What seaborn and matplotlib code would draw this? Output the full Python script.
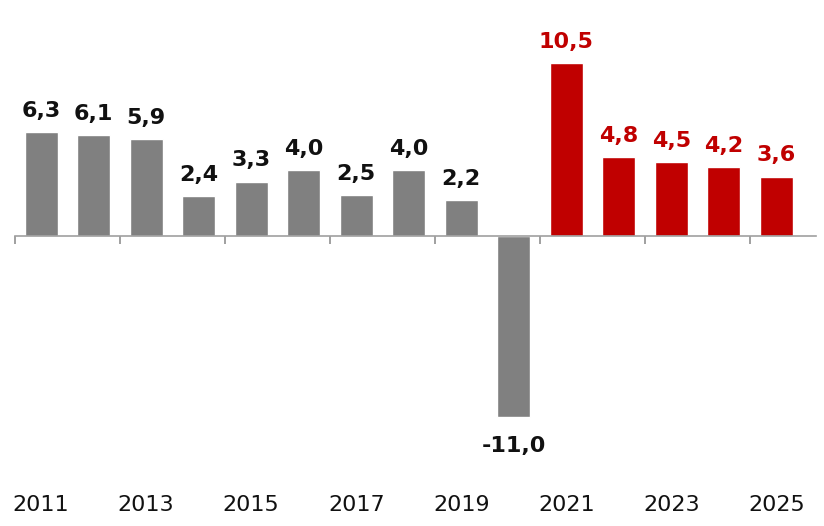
import matplotlib
matplotlib.use("Agg")
import matplotlib.pyplot as plt
import matplotlib.transforms as mtransforms
import seaborn as sns
import pandas as pd

years = ["2011", "2012", "2013", "2014", "2015", "2016", "2017", "2018",
         "2019", "2020", "2021", "2022", "2023", "2024", "2025"]
values = [6.3, 6.1, 5.9, 2.4, 3.3, 4.0, 2.5, 4.0, 2.2, -11.0,
          10.5, 4.8, 4.5, 4.2, 3.6]
groups = ["actual"] * 10 + ["forecast"] * 5
label_years = ["2011", "2013", "2015", "2017", "2019", "2021", "2023", "2025"]

colors = {"actual": "#808080", "forecast": "#C00000"}
text_colors = {"actual": "#111111", "forecast": "#C00000"}

df = pd.DataFrame({"year": years, "value": values, "group": groups})

sns.set_theme(style="white")
plt.rcParams["font.family"] = ["DejaVu Sans"]

fig = plt.figure(figsize=(8.24, 5.26), dpi=100)
ax = fig.add_axes([0.018, 0.1445, 0.972, 0.7985])

sns.barplot(data=df, x="year", y="value", hue="group", palette=colors,
            dodge=False, width=0.63, legend=False, saturation=1, ax=ax)

ax.set_xlim(-0.5, 14.75)
ax.set_ylim(-13, 12.5)

for s in ["top", "right", "left"]:
    ax.spines[s].set_visible(False)
ax.spines["bottom"].set_position(("data", 0))
ax.spines["bottom"].set_color("#a0a0a0")
ax.spines["bottom"].set_linewidth(1.2)
ax.set_yticks([])
ax.set_xticks([-0.5 + 2 * i for i in range(8)])
ax.set_xticklabels([])
ax.tick_params(axis="x", direction="out", length=6, width=1.2,
               color="#909090", bottom=True)
ax.set_xlabel("")
ax.set_ylabel("")

for i, (v, g) in enumerate(zip(values, groups)):
    lbl = f"{v:.1f}".replace(".", ",")
    if v >= 0:
        ax.annotate(lbl, (i, v), xytext=(0, 8), textcoords="offset points",
                    ha="center", va="bottom", fontsize=16, fontweight="bold",
                    color=text_colors[g])
    else:
        ax.annotate(lbl, (i, v), xytext=(0, -14), textcoords="offset points",
                    ha="center", va="top", fontsize=16, fontweight="bold",
                    color=text_colors[g])

trans = mtransforms.blended_transform_factory(ax.transData, fig.transFigure)
for y in label_years:
    ax.text(years.index(y), 21 / 526, y, transform=trans, ha="center",
            va="center", fontsize=16, color="#111111")

fig.savefig("out.png", dpi=100)
